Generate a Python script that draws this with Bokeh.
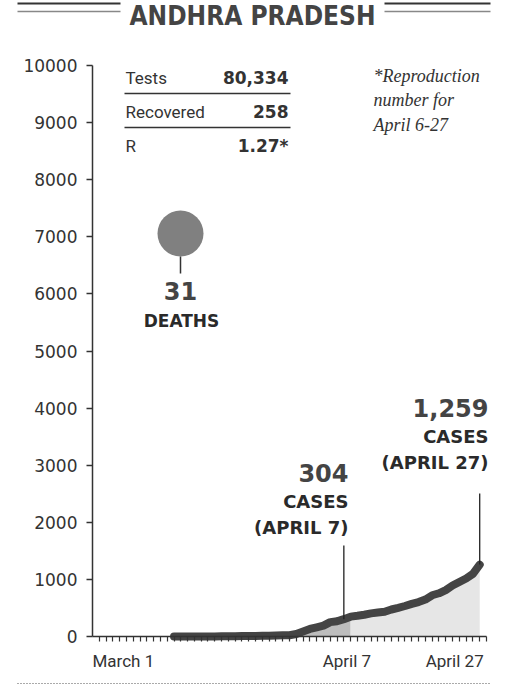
import pandas as pd
from bokeh.plotting import figure
from bokeh.models import Range1d, FixedTicker, Label, Arrow
from bokeh.embed import file_html
from bokeh.resources import INLINE

# ---------------- data ----------------
start_date = "2020-03-13"
end_date = "2020-04-27"
cases = [1, 1, 1, 1, 1, 1, 2, 3, 3, 5, 7, 8, 10, 11, 13, 19, 21, 23, 44,
         87, 132, 161, 190, 252, 266, 304, 348, 363, 381, 405, 420, 432, 473,
         502, 534, 572, 603, 647, 722, 757, 813, 893, 955, 1016, 1097, 1259]
split_date = "2020-04-08"
title_text = "ANDHRA PRADESH"
table_labels = ["Tests", "Recovered", "R"]
table_values = ["80,334", "258", "1.27*"]
note_lines = ["*Reproduction", "number for", "April 6-27"]
deaths = "31"
deaths_label = "DEATHS"
callouts = [("2020-04-07", 304, "304", "CASES", "(APRIL 7)"),
            ("2020-04-27", 1259, "1,259", "CASES", "(APRIL 27)")]
x_tick_dates = ["2020-03-01", "2020-04-07", "2020-04-27"]
x_tick_labels = ["March 1", "April 7", "April 27"]
y_ticks = [0, 1000, 2000, 3000, 4000, 5000, 6000, 7000, 8000, 9000, 10000]
y_tick_labels = ["0", "1000", "2000", "3000", "4000", "5000", "6000",
                 "7000", "8000", "9000", "10000"]

origin = pd.Timestamp("2020-03-01")
def day(d):
    return (pd.Timestamp(d) - origin).days

days = [day(d) for d in pd.date_range(start_date, end_date, freq="D")]
X_MAX = 58
Y_MAX = 10000

# ---------------- layout ----------------
W, H = 508, 693
AX_L, AX_B = 92, 636          # axis origin in page px
XS = 394 / X_MAX              # px per day
YS = 571 / Y_MAX              # px per case

def dx(px):
    return (px - AX_L) / XS

def dy(py):
    return (AX_B - py) / YS

def tb(py, size):
    # baseline position compensated for label box offset
    return dy(py - 0.4 * size)

DARK = "#444444"
INK = "#2a2a2a"
SANS = "DejaVu Sans"
COND = "DejaVu Sans Condensed, DejaVu Sans"

p = figure(width=W, height=H,
           x_range=Range1d(dx(0), dx(W)), y_range=Range1d(dy(H), dy(0)),
           output_backend="svg", toolbar_location=None, title=None,
           min_border_left=0, min_border_right=0, min_border_top=0, min_border_bottom=0)
p.xgrid.visible = False
p.ygrid.visible = False
p.outline_line_color = None
p.background_fill_color = "white"
p.border_fill_color = "white"

# y axis
ya = p.yaxis[0]
ya.fixed_location = 0
ya.bounds = (0, Y_MAX)
ya.ticker = FixedTicker(ticks=y_ticks)
ya.major_label_overrides = {t: l for t, l in zip(y_ticks, y_tick_labels)}
ya.axis_line_color = "#333333"
ya.axis_line_width = 1.5
ya.major_tick_line_color = "#333333"
ya.major_tick_line_width = 1.5
ya.major_tick_out = 6
ya.major_tick_in = 0
ya.minor_tick_out = 0
ya.minor_tick_in = 0
ya.major_label_text_font = SANS
ya.major_label_text_font_size = "17px"
ya.major_label_text_color = "#333333"
ya.major_label_standoff = 9

# x axis (daily ticks, labels drawn separately)
xa = p.xaxis[0]
xa.fixed_location = 0
xa.bounds = (0, X_MAX)
tick_days = list(range(1, X_MAX + 1))
xa.ticker = FixedTicker(ticks=tick_days)
xa.major_label_overrides = {t: "" for t in tick_days}
xa.axis_line_color = "#333333"
xa.axis_line_width = 1.5
xa.major_tick_line_color = "#333333"
xa.major_tick_line_width = 1.2
xa.major_tick_out = 5
xa.major_tick_in = 0
xa.minor_tick_out = 0
xa.minor_tick_in = 0
xa.major_label_text_font_size = "1px"

# area + line
k = days.index(day(split_date))
p.varea(x=days[:k + 1], y1=[0] * (k + 1), y2=cases[:k + 1], fill_color="#bdbdbd")
p.varea(x=days[k:], y1=[0] * (len(days) - k), y2=cases[k:], fill_color="#e6e6e6")
p.line(days, cases, line_width=8, line_color=DARK, line_cap="round", line_join="round")

def label(x, py, text, size, align="left", font=SANS, style="normal", color="#333333", xo=0):
    p.add_layout(Label(x=x, y=tb(py, size), text=text, text_align=align, x_offset=xo,
                       text_baseline="alphabetic", text_font=font, text_font_style=style,
                       text_font_size=f"{size}px", text_color=color))

# x tick labels
aligns = ["left", "center", "right"]
xoffs = [0, 3, 4]
for d, lab, al, xo in zip(x_tick_dates, x_tick_labels, aligns, xoffs):
    label(day(d), 667, lab, 17, align=al, font="Roboto", xo=xo)

# title with double rules
label(dx(252), 26, title_text, 26, align="center", font=COND, style="bold", color=DARK)
for (a, b) in [(17, 120), (384, 490)]:
    p.add_layout(Arrow(end=None, x_start=dx(a), y_start=dy(3), x_end=dx(b), y_end=dy(3),
                       line_color="#333333", line_width=2))
    p.add_layout(Arrow(end=None, x_start=dx(a), y_start=dy(11), x_end=dx(b), y_end=dy(11),
                       line_color="#888888", line_width=1.5))
# bottom dotted rule
p.add_layout(Arrow(end=None, x_start=dx(17), y_start=dy(683), x_end=dx(490), y_end=dy(683),
                   line_color="#555555", line_width=1, line_dash="1 2"))

# stats table
row_base = [84, 118, 152]
for lab, val, yb in zip(table_labels, table_values, row_base):
    label(dx(125), yb, lab, 17, font="Roboto")
    label(dx(288), yb, val, 17, align="right", style="bold")
p.segment(x0=[dx(124)] * 2, x1=[dx(290)] * 2, y0=[dy(93), dy(127)], y1=[dy(93), dy(127)],
          line_color="#333333", line_width=1.5)

# footnote
for line_txt, yb in zip(note_lines, [83, 107, 132]):
    label(dx(373), yb, line_txt, 18, font="Liberation Serif", style="italic")

# deaths bubble
p.scatter(x=[dx(180)], y=[dy(233)], size=46, marker="circle",
          fill_color="#808080", line_color=None)
p.segment(x0=[dx(180)], x1=[dx(180)], y0=[dy(256)], y1=[dy(273)],
          line_color="#333333", line_width=1.5)
label(dx(180), 300, deaths, 24, align="center", style="bold", color=DARK)
label(dx(181), 327, deaths_label, 17, align="center", style="bold", color=INK)

# case callouts
callout_layout = [(348, 482, 508, 534, 545), (488, 417, 443, 469, 493)]
for (d, v, big, l1, l2), (xr, b0, b1, b2, ltop) in zip(callouts, callout_layout):
    x = day(d)
    p.segment(x0=[x], x1=[x], y0=[v], y1=[dy(ltop)], line_color="#222222", line_width=1.3)
    label(dx(xr), b0, big, 24, align="right", style="bold", color=DARK)
    label(dx(xr), b1, l1, 18, align="right", style="bold", color=INK)
    label(dx(xr), b2, l2, 18, align="right", style="bold", color=INK)

open("out.html", "w").write(file_html(p, INLINE))
